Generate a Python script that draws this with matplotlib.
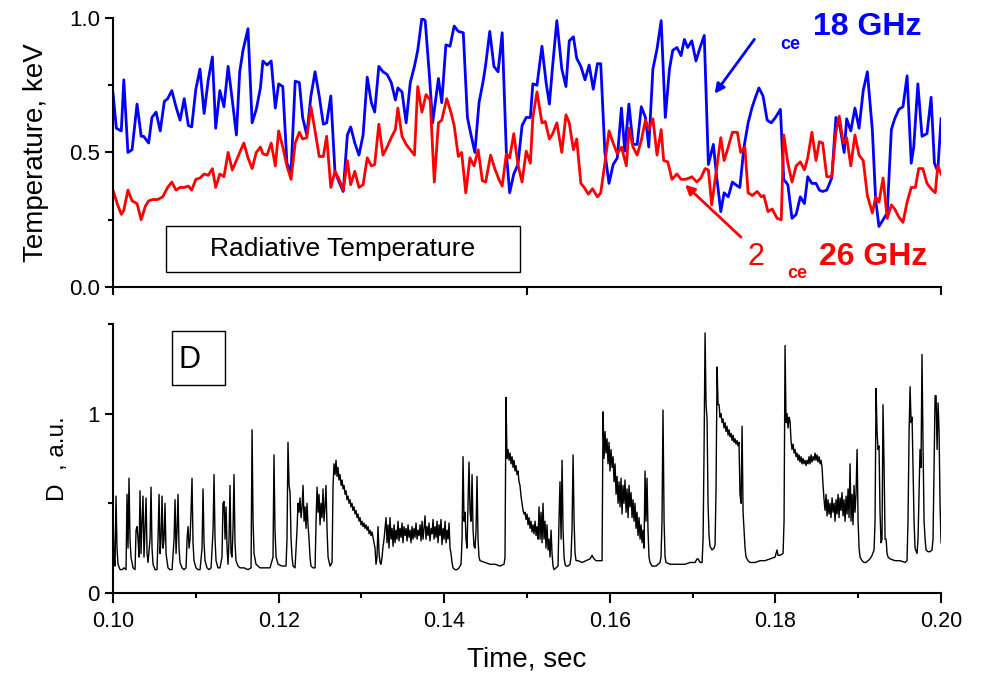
import matplotlib
matplotlib.use("Agg")
import matplotlib.pyplot as plt
import numpy as np
from matplotlib.patches import Rectangle
from matplotlib.ticker import MultipleLocator, FixedLocator, NullFormatter

# ECE radiative temperature, 18 GHz channel (blue)
blue_time = [
    0.1000, 0.1004, 0.1010, 0.1013, 0.1018, 0.1023, 0.1029, 0.1034, 0.1037, 0.1043,
    0.1047, 0.1052, 0.1057, 0.1062, 0.1066, 0.1071, 0.1076, 0.1081, 0.1086, 0.1091,
    0.1095, 0.1100, 0.1105, 0.1110, 0.1115, 0.1120, 0.1124, 0.1129, 0.1134, 0.1139,
    0.1144, 0.1149, 0.1153, 0.1157, 0.1163, 0.1168, 0.1173, 0.1178, 0.1181, 0.1186,
    0.1191, 0.1196, 0.1200, 0.1205, 0.1210, 0.1215, 0.1220, 0.1225, 0.1229, 0.1234,
    0.1239, 0.1244, 0.1249, 0.1254, 0.1258, 0.1263, 0.1268, 0.1273, 0.1278, 0.1283,
    0.1287, 0.1292, 0.1297, 0.1302, 0.1307, 0.1312, 0.1316, 0.1321, 0.1326, 0.1331,
    0.1336, 0.1341, 0.1344, 0.1349, 0.1354, 0.1359, 0.1364, 0.1368, 0.1373, 0.1377,
    0.1382, 0.1386, 0.1393, 0.1397, 0.1402, 0.1407, 0.1412, 0.1417, 0.1423, 0.1428,
    0.1432, 0.1437, 0.1442, 0.1447, 0.1450, 0.1455, 0.1460, 0.1465, 0.1470, 0.1475,
    0.1479, 0.1484, 0.1489, 0.1494, 0.1499, 0.1504, 0.1507, 0.1512, 0.1518, 0.1523,
    0.1527, 0.1531, 0.1536, 0.1542, 0.1547, 0.1551, 0.1556, 0.1560, 0.1565, 0.1570,
    0.1575, 0.1580, 0.1585, 0.1589, 0.1594, 0.1599, 0.1604, 0.1609, 0.1614, 0.1618,
    0.1623, 0.1628, 0.1633, 0.1638, 0.1643, 0.1647, 0.1652, 0.1657, 0.1662, 0.1667,
    0.1672, 0.1676, 0.1681, 0.1686, 0.1690, 0.1694, 0.1699, 0.1704, 0.1709, 0.1714,
    0.1719, 0.1725, 0.1729, 0.1734, 0.1738, 0.1743, 0.1748, 0.1752, 0.1757, 0.1762,
    0.1767, 0.1772, 0.1777, 0.1780, 0.1785, 0.1790, 0.1795, 0.1800, 0.1806, 0.1810,
    0.1815, 0.1820, 0.1825, 0.1830, 0.1835, 0.1839, 0.1844, 0.1849, 0.1853, 0.1857,
    0.1862, 0.1868, 0.1873, 0.1878, 0.1883, 0.1886, 0.1891, 0.1896, 0.1901, 0.1906,
    0.1911, 0.1917, 0.1921, 0.1925, 0.1930, 0.1935, 0.1940, 0.1944, 0.1949, 0.1954,
    0.1959, 0.1964, 0.1967, 0.1972, 0.1977, 0.1983, 0.1988, 0.1992, 0.1996, 0.2000,
]
blue_temp = [
    0.72, 0.59, 0.58, 0.77, 0.50, 0.51, 0.68, 0.56, 0.56, 0.535,
    0.63, 0.65, 0.58, 0.69, 0.70, 0.73, 0.67, 0.62, 0.70, 0.60,
    0.595, 0.735, 0.81, 0.645, 0.77, 0.855, 0.59, 0.73, 0.67, 0.82,
    0.695, 0.565, 0.80, 0.88, 0.96, 0.61, 0.66, 0.74, 0.84, 0.825,
    0.84, 0.665, 0.755, 0.745, 0.46, 0.43, 0.765, 0.76, 0.63, 0.565,
    0.71, 0.80, 0.71, 0.605, 0.61, 0.71, 0.43, 0.39, 0.355, 0.565,
    0.595, 0.535, 0.49, 0.565, 0.78, 0.685, 0.65, 0.82, 0.80, 0.79,
    0.76, 0.695, 0.74, 0.725, 0.61, 0.76, 0.82, 0.88, 1.00, 0.99,
    0.79, 0.61, 0.775, 0.685, 0.90, 0.895, 0.97, 0.95, 0.945, 0.63,
    0.57, 0.50, 0.685, 0.765, 0.825, 0.95, 0.82, 0.80, 0.945, 0.50,
    0.35, 0.42, 0.455, 0.60, 0.63, 0.63, 0.755, 0.75, 0.895, 0.76,
    0.68, 0.825, 0.99, 0.81, 0.745, 0.915, 0.93, 0.85, 0.82, 0.77,
    0.825, 0.735, 0.83, 0.83, 0.50, 0.385, 0.455, 0.48, 0.665, 0.505,
    0.68, 0.53, 0.53, 0.67, 0.63, 0.52, 0.81, 0.885, 0.99, 0.63,
    0.81, 0.88, 0.89, 0.86, 0.92, 0.89, 0.915, 0.84, 0.89, 0.935,
    0.455, 0.53, 0.41, 0.28, 0.35, 0.335, 0.39, 0.38, 0.37, 0.52,
    0.61, 0.67, 0.715, 0.74, 0.71, 0.62, 0.61, 0.63, 0.66, 0.40,
    0.38, 0.255, 0.27, 0.335, 0.31, 0.41, 0.385, 0.385, 0.36, 0.355,
    0.36, 0.405, 0.63, 0.595, 0.50, 0.625, 0.58, 0.665, 0.59, 0.73,
    0.80, 0.585, 0.325, 0.225, 0.25, 0.275, 0.585, 0.625, 0.66, 0.67,
    0.785, 0.46, 0.52, 0.755, 0.56, 0.57, 0.705, 0.46, 0.43, 0.625,
]

# ECE radiative temperature, 26 GHz channel (red)
red_time = [
    0.1000, 0.1005, 0.1010, 0.1013, 0.1018, 0.1023, 0.1029, 0.1034, 0.1039, 0.1043,
    0.1048, 0.1054, 0.1060, 0.1066, 0.1071, 0.1076, 0.1081, 0.1086, 0.1091, 0.1095,
    0.1100, 0.1105, 0.1110, 0.1115, 0.1120, 0.1124, 0.1129, 0.1134, 0.1139, 0.1144,
    0.1149, 0.1153, 0.1158, 0.1163, 0.1168, 0.1173, 0.1178, 0.1181, 0.1186, 0.1191,
    0.1196, 0.1200, 0.1205, 0.1210, 0.1215, 0.1220, 0.1225, 0.1229, 0.1234, 0.1239,
    0.1244, 0.1249, 0.1254, 0.1258, 0.1263, 0.1268, 0.1273, 0.1278, 0.1283, 0.1287,
    0.1292, 0.1297, 0.1302, 0.1307, 0.1312, 0.1316, 0.1321, 0.1326, 0.1331, 0.1336,
    0.1341, 0.1344, 0.1349, 0.1354, 0.1359, 0.1364, 0.1368, 0.1373, 0.1378, 0.1383,
    0.1388, 0.1393, 0.1397, 0.1403, 0.1408, 0.1412, 0.1417, 0.1421, 0.1426, 0.1431,
    0.1436, 0.1441, 0.1446, 0.1450, 0.1456, 0.1461, 0.1466, 0.1470, 0.1475, 0.1479,
    0.1484, 0.1489, 0.1494, 0.1499, 0.1504, 0.1507, 0.1512, 0.1518, 0.1522, 0.1527,
    0.1531, 0.1536, 0.1542, 0.1547, 0.1551, 0.1556, 0.1560, 0.1565, 0.1569, 0.1574,
    0.1579, 0.1585, 0.1589, 0.1594, 0.1599, 0.1604, 0.1609, 0.1614, 0.1620, 0.1623,
    0.1628, 0.1633, 0.1638, 0.1643, 0.1647, 0.1652, 0.1657, 0.1662, 0.1665, 0.1670,
    0.1675, 0.1681, 0.1686, 0.1691, 0.1696, 0.1699, 0.1705, 0.1710, 0.1715, 0.1719,
    0.1723, 0.1729, 0.1734, 0.1738, 0.1743, 0.1748, 0.1754, 0.1758, 0.1763, 0.1767,
    0.1772, 0.1778, 0.1783, 0.1786, 0.1791, 0.1796, 0.1802, 0.1807, 0.1810, 0.1815,
    0.1820, 0.1825, 0.1830, 0.1835, 0.1839, 0.1844, 0.1849, 0.1853, 0.1857, 0.1862,
    0.1868, 0.1873, 0.1877, 0.1882, 0.1886, 0.1891, 0.1896, 0.1901, 0.1906, 0.1911,
    0.1917, 0.1921, 0.1925, 0.1930, 0.1935, 0.1940, 0.1944, 0.1949, 0.1954, 0.1959,
    0.1964, 0.1969, 0.1973, 0.1978, 0.1983, 0.1988, 0.1993, 0.1996, 0.2000,
]
red_temp = [
    0.36, 0.31, 0.27, 0.285, 0.36, 0.32, 0.31, 0.25, 0.30, 0.32,
    0.325, 0.325, 0.335, 0.37, 0.39, 0.36, 0.37, 0.37, 0.375, 0.36,
    0.40, 0.405, 0.42, 0.415, 0.44, 0.37, 0.42, 0.41, 0.50, 0.435,
    0.47, 0.50, 0.535, 0.48, 0.44, 0.50, 0.52, 0.495, 0.49, 0.535,
    0.45, 0.58, 0.52, 0.45, 0.40, 0.535, 0.575, 0.55, 0.555, 0.67,
    0.58, 0.485, 0.485, 0.56, 0.37, 0.43, 0.40, 0.36, 0.47, 0.38,
    0.43, 0.37, 0.38, 0.48, 0.45, 0.455, 0.605, 0.49, 0.52, 0.555,
    0.585, 0.665, 0.56, 0.53, 0.51, 0.49, 0.745, 0.65, 0.715, 0.695,
    0.39, 0.61, 0.62, 0.70, 0.65, 0.60, 0.485, 0.50, 0.35, 0.48,
    0.45, 0.51, 0.395, 0.39, 0.49, 0.44, 0.40, 0.375, 0.495, 0.48,
    0.57, 0.455, 0.39, 0.505, 0.46, 0.63, 0.725, 0.61, 0.615, 0.55,
    0.57, 0.61, 0.50, 0.64, 0.61, 0.51, 0.55, 0.385, 0.37, 0.345,
    0.365, 0.335, 0.35, 0.46, 0.58, 0.535, 0.495, 0.52, 0.45, 0.59,
    0.52, 0.49, 0.545, 0.62, 0.585, 0.625, 0.49, 0.585, 0.47, 0.465,
    0.40, 0.42, 0.40, 0.40, 0.405, 0.41, 0.39, 0.405, 0.44, 0.435,
    0.305, 0.44, 0.555, 0.47, 0.52, 0.575, 0.575, 0.50, 0.52, 0.35,
    0.34, 0.355, 0.335, 0.34, 0.28, 0.29, 0.255, 0.25, 0.565, 0.46,
    0.39, 0.45, 0.465, 0.435, 0.48, 0.575, 0.47, 0.54, 0.535, 0.41,
    0.41, 0.575, 0.635, 0.535, 0.555, 0.45, 0.565, 0.49, 0.47, 0.34,
    0.275, 0.335, 0.315, 0.405, 0.255, 0.305, 0.29, 0.26, 0.24, 0.315,
    0.37, 0.37, 0.44, 0.44, 0.385, 0.365, 0.35, 0.45, 0.42,
]

# D-alpha signal, time in ms
d_time_ms = [
    100.00, 100.12, 100.24, 100.36, 100.48, 100.60, 100.85, 101.09, 101.33, 101.57,
    101.69, 101.81, 101.93, 102.05, 102.17, 102.42, 102.66, 102.78, 102.90, 103.02,
    103.14, 103.26, 103.38, 103.50, 103.62, 103.74, 103.86, 103.99, 104.11, 104.23,
    104.47, 104.59, 104.71, 104.83, 105.07, 105.31, 105.43, 105.56, 105.68, 105.80,
    105.92, 106.04, 106.16, 106.28, 106.40, 106.64, 106.88, 107.13, 107.37, 107.49,
    107.61, 107.73, 107.85, 107.97, 108.09, 108.33, 108.57, 108.82, 108.94, 109.06,
    109.18, 109.30, 109.42, 109.54, 109.66, 109.78, 110.02, 110.27, 110.51, 110.75,
    110.87, 110.99, 111.11, 111.35, 111.59, 111.84, 112.08, 112.20, 112.32, 112.44,
    112.68, 112.92, 113.16, 113.28, 113.41, 113.53, 113.65, 113.77, 113.89, 114.01,
    114.13, 114.25, 114.37, 114.49, 114.61, 114.73, 114.85, 115.10, 115.34, 115.82,
    116.30, 116.67, 116.79, 116.91, 117.03, 117.27, 117.75, 118.36, 118.96, 119.32,
    119.44, 119.56, 119.69, 119.93, 120.41, 120.89, 121.01, 121.13, 121.26, 121.38,
    121.50, 121.62, 121.74, 121.98, 122.22, 122.34, 122.46, 122.58, 122.71, 122.83,
    122.95, 123.07, 123.19, 123.31, 123.43, 123.55, 123.67, 123.79, 123.91, 124.15,
    124.40, 124.52, 124.64, 124.76, 124.88, 125.00, 125.12, 125.24, 125.36, 125.48,
    125.60, 125.72, 125.85, 125.97, 126.21, 126.45, 126.57, 126.69, 126.81, 126.93,
    127.05, 127.17, 127.29, 127.41, 127.54, 127.66, 127.78, 127.90, 128.02, 128.14,
    128.26, 128.38, 128.50, 128.62, 128.74, 128.86, 128.98, 129.11, 129.23, 129.35,
    129.47, 129.59, 129.71, 129.83, 129.95, 130.07, 130.19, 130.31, 130.43, 130.55,
    130.68, 130.80, 130.92, 131.04, 131.16, 131.28, 131.40, 131.64, 131.76, 131.88,
    132.00, 132.13, 132.25, 132.37, 132.49, 132.61, 132.73, 132.85, 132.97, 133.09,
    133.21, 133.33, 133.45, 133.58, 133.70, 133.82, 133.94, 134.06, 134.18, 134.30,
    134.42, 134.54, 134.66, 134.78, 134.90, 135.02, 135.14, 135.27, 135.39, 135.51,
    135.63, 135.75, 135.87, 135.99, 136.11, 136.23, 136.35, 136.47, 136.59, 136.72,
    136.84, 136.96, 137.08, 137.20, 137.32, 137.44, 137.56, 137.68, 137.80, 137.92,
    138.04, 138.16, 138.28, 138.41, 138.53, 138.65, 138.77, 138.89, 139.01, 139.13,
    139.25, 139.37, 139.49, 139.61, 139.73, 139.86, 139.98, 140.10, 140.22, 140.34,
    140.46, 140.58, 140.70, 140.82, 140.94, 141.06, 141.30, 141.55, 141.79, 142.03,
    142.15, 142.27, 142.39, 142.51, 142.63, 142.75, 142.87, 142.99, 143.12, 143.24,
    143.36, 143.48, 143.60, 143.72, 143.84, 143.96, 144.08, 144.20, 144.32, 144.93,
    145.53, 146.14, 146.74, 147.22, 147.34, 147.46, 147.58, 147.70, 147.83, 147.95,
    148.07, 148.19, 148.31, 148.43, 148.55, 148.67, 148.79, 148.91, 149.03, 149.15,
    149.27, 149.40, 149.52, 149.64, 149.76, 149.88, 150.00, 150.12, 150.24, 150.36,
    150.48, 150.60, 150.72, 150.84, 150.97, 151.09, 151.21, 151.33, 151.45, 151.57,
    151.69, 151.81, 151.93, 152.05, 152.17, 152.29, 152.41, 152.54, 152.66, 152.78,
    152.90, 153.02, 153.14, 153.26, 153.50, 153.74, 153.86, 153.98, 154.11, 154.23,
    154.35, 154.47, 154.59, 154.71, 154.95, 155.19, 155.31, 155.43, 155.56, 155.68,
    155.80, 155.92, 156.16, 156.64, 157.13, 157.61, 157.85, 158.09, 158.33, 158.70,
    159.06, 159.18, 159.30, 159.42, 159.54, 159.66, 159.78, 159.90, 160.02, 160.14,
    160.27, 160.39, 160.51, 160.63, 160.75, 160.87, 160.99, 161.11, 161.23, 161.35,
    161.47, 161.59, 161.71, 161.83, 161.96, 162.08, 162.20, 162.32, 162.44, 162.56,
    162.68, 162.80, 162.92, 163.04, 163.16, 163.28, 163.40, 163.53, 163.65, 163.77,
    163.89, 164.01, 164.13, 164.25, 164.37, 164.49, 164.61, 164.73, 164.85, 165.10,
    165.58, 166.06, 166.18, 166.30, 166.42, 166.55, 166.67, 166.79, 167.27, 167.87,
    168.48, 169.08, 169.69, 170.29, 170.53, 170.66, 170.90, 171.14, 171.26, 171.38,
    171.50, 171.62, 171.74, 171.86, 171.98, 172.10, 172.34, 172.58, 172.71, 172.83,
    172.95, 173.07, 173.19, 173.31, 173.43, 173.55, 173.67, 173.79, 173.91, 174.03,
    174.15, 174.28, 174.40, 174.52, 174.64, 174.76, 174.88, 175.00, 175.12, 175.24,
    175.36, 175.48, 175.60, 175.72, 175.85, 175.97, 176.09, 176.21, 176.33, 176.45,
    176.69, 176.93, 177.54, 178.14, 178.74, 179.35, 179.95, 180.07, 180.19, 180.31,
    180.56, 180.92, 181.04, 181.16, 181.28, 181.40, 181.52, 181.64, 181.76, 181.88,
    182.00, 182.13, 182.25, 182.37, 182.49, 182.61, 182.73, 182.85, 182.97, 183.09,
    183.21, 183.33, 183.45, 183.57, 183.70, 183.82, 183.94, 184.06, 184.18, 184.30,
    184.42, 184.54, 184.66, 184.78, 184.90, 185.02, 185.14, 185.27, 185.39, 185.51,
    185.63, 185.75, 185.87, 185.99, 186.11, 186.23, 186.35, 186.47, 186.59, 186.71,
    186.84, 186.96, 187.08, 187.20, 187.32, 187.44, 187.56, 187.68, 187.80, 187.92,
    188.04, 188.16, 188.28, 188.41, 188.53, 188.65, 188.77, 188.89, 189.01, 189.13,
    189.25, 189.37, 189.49, 189.61, 189.73, 189.86, 189.98, 190.10, 190.22, 190.46,
    190.70, 190.94, 191.18, 191.42, 191.67, 191.91, 192.03, 192.15, 192.27, 192.39,
    192.51, 192.63, 192.75, 192.87, 192.99, 193.12, 193.24, 193.36, 193.48, 193.60,
    193.84, 194.44, 195.05, 195.65, 195.89, 196.01, 196.14, 196.26, 196.38, 196.50,
    196.62, 196.74, 196.86, 197.10, 197.22, 197.34, 197.46, 197.58, 197.70, 197.83,
    197.95, 198.07, 198.19, 198.43, 198.67, 198.91, 199.03, 199.15, 199.28, 199.40,
    199.52, 199.64, 199.76, 199.88, 200.00,
]
d_signal = [
    0.45, 0.20, 0.15, 0.54, 0.25, 0.16, 0.13, 0.13, 0.14, 0.13,
    0.55, 0.25, 0.64, 0.30, 0.20, 0.14, 0.13, 0.35, 0.37, 0.30,
    0.20, 0.57, 0.22, 0.40, 0.54, 0.20, 0.35, 0.53, 0.22, 0.17,
    0.30, 0.59, 0.25, 0.16, 0.13, 0.13, 0.30, 0.55, 0.22, 0.30,
    0.54, 0.25, 0.30, 0.50, 0.22, 0.14, 0.13, 0.13, 0.30, 0.52,
    0.22, 0.35, 0.55, 0.25, 0.17, 0.14, 0.13, 0.14, 0.30, 0.37,
    0.25, 0.30, 0.45, 0.64, 0.28, 0.18, 0.14, 0.13, 0.13, 0.25,
    0.58, 0.28, 0.18, 0.14, 0.13, 0.14, 0.35, 0.66, 0.30, 0.18,
    0.14, 0.14, 0.20, 0.50, 0.51, 0.30, 0.48, 0.25, 0.16, 0.30,
    0.60, 0.22, 0.20, 0.35, 0.66, 0.28, 0.18, 0.15, 0.14, 0.14,
    0.13, 0.14, 0.91, 0.40, 0.22, 0.16, 0.14, 0.14, 0.14, 0.20,
    0.77, 0.35, 0.20, 0.16, 0.15, 0.15, 0.30, 0.84, 0.60, 0.56,
    0.30, 0.20, 0.15, 0.14, 0.35, 0.50, 0.45, 0.53, 0.42, 0.48,
    0.60, 0.40, 0.48, 0.36, 0.50, 0.38, 0.30, 0.20, 0.15, 0.14,
    0.14, 0.40, 0.59, 0.45, 0.55, 0.38, 0.50, 0.42, 0.58, 0.40,
    0.48, 0.60, 0.35, 0.20, 0.15, 0.17, 0.60, 0.72, 0.66, 0.74,
    0.65, 0.70, 0.63, 0.66, 0.60, 0.63, 0.58, 0.60, 0.55, 0.57,
    0.52, 0.54, 0.50, 0.52, 0.48, 0.50, 0.46, 0.48, 0.44, 0.46,
    0.42, 0.44, 0.40, 0.42, 0.38, 0.40, 0.37, 0.39, 0.36, 0.38,
    0.35, 0.37, 0.33, 0.35, 0.32, 0.34, 0.31, 0.25, 0.16, 0.20,
    0.37, 0.22, 0.17, 0.16, 0.20, 0.26, 0.30, 0.36, 0.42, 0.28,
    0.38, 0.25, 0.42, 0.30, 0.36, 0.26, 0.38, 0.28, 0.35, 0.30,
    0.40, 0.29, 0.36, 0.31, 0.39, 0.28, 0.37, 0.32, 0.36, 0.29,
    0.38, 0.31, 0.35, 0.28, 0.37, 0.30, 0.36, 0.31, 0.39, 0.30,
    0.35, 0.32, 0.38, 0.29, 0.40, 0.30, 0.36, 0.43, 0.30, 0.37,
    0.32, 0.39, 0.29, 0.36, 0.33, 0.41, 0.30, 0.37, 0.31, 0.40,
    0.28, 0.38, 0.32, 0.41, 0.27, 0.36, 0.30, 0.40, 0.28, 0.35,
    0.30, 0.39, 0.25, 0.22, 0.17, 0.14, 0.13, 0.13, 0.14, 0.16,
    0.30, 0.76, 0.40, 0.45, 0.30, 0.25, 0.50, 0.73, 0.45, 0.40,
    0.66, 0.35, 0.26, 0.25, 0.35, 0.65, 0.30, 0.20, 0.18, 0.17,
    0.16, 0.16, 0.15, 0.16, 0.20, 1.09, 0.75, 0.80, 0.74, 0.78,
    0.72, 0.76, 0.70, 0.74, 0.68, 0.71, 0.66, 0.68, 0.62, 0.60,
    0.54, 0.50, 0.46, 0.44, 0.45, 0.41, 0.44, 0.38, 0.42, 0.36,
    0.40, 0.34, 0.38, 0.33, 0.40, 0.32, 0.37, 0.30, 0.48, 0.30,
    0.45, 0.28, 0.50, 0.30, 0.40, 0.25, 0.38, 0.24, 0.30, 0.20,
    0.35, 0.22, 0.15, 0.13, 0.14, 0.15, 0.40, 0.62, 0.30, 0.74,
    0.35, 0.20, 0.16, 0.15, 0.15, 0.16, 0.20, 0.35, 0.77, 0.40,
    0.22, 0.18, 0.18, 0.17, 0.18, 0.19, 0.21, 0.19, 0.18, 0.18,
    0.18, 1.01, 0.75, 0.90, 0.78, 0.86, 0.72, 0.84, 0.68, 0.80,
    0.70, 0.76, 0.62, 0.72, 0.55, 0.65, 0.50, 0.62, 0.48, 0.64,
    0.44, 0.60, 0.50, 0.63, 0.45, 0.58, 0.42, 0.60, 0.48, 0.56,
    0.42, 0.52, 0.40, 0.50, 0.36, 0.45, 0.32, 0.42, 0.30, 0.38,
    0.28, 0.35, 0.25, 0.68, 0.40, 0.64, 0.35, 0.20, 0.17, 0.15,
    0.15, 0.17, 0.20, 0.40, 1.02, 0.40, 0.20, 0.17, 0.16, 0.16,
    0.16, 0.16, 0.17, 0.17, 0.19, 0.19, 0.17, 0.17, 0.30, 0.80,
    1.45, 1.05, 0.97, 0.50, 0.32, 0.26, 0.24, 0.25, 0.27, 0.60,
    1.26, 1.05, 1.05, 0.98, 1.00, 0.95, 0.97, 0.92, 0.95, 0.90,
    0.93, 0.88, 0.91, 0.87, 0.89, 0.85, 0.88, 0.84, 0.86, 0.83,
    0.85, 0.82, 0.84, 0.55, 0.50, 0.93, 0.45, 0.35, 0.25, 0.20,
    0.18, 0.17, 0.17, 0.18, 0.18, 0.19, 0.20, 0.22, 0.24, 0.21,
    0.21, 0.22, 0.40, 1.38, 0.95, 1.00, 0.92, 0.98, 0.96, 0.85,
    0.80, 0.83, 0.78, 0.80, 0.76, 0.78, 0.74, 0.77, 0.73, 0.76,
    0.72, 0.75, 0.72, 0.74, 0.71, 0.74, 0.72, 0.76, 0.72, 0.77,
    0.73, 0.76, 0.74, 0.78, 0.74, 0.77, 0.73, 0.76, 0.72, 0.74,
    0.70, 0.60, 0.52, 0.46, 0.55, 0.43, 0.52, 0.44, 0.50, 0.42,
    0.53, 0.45, 0.50, 0.40, 0.52, 0.44, 0.55, 0.42, 0.53, 0.46,
    0.56, 0.43, 0.52, 0.40, 0.54, 0.44, 0.58, 0.42, 0.72, 0.40,
    0.55, 0.38, 0.60, 0.45, 0.55, 0.80, 0.40, 0.25, 0.20, 0.18,
    0.17, 0.17, 0.18, 0.19, 0.21, 0.24, 0.40, 1.14, 0.90, 0.80,
    0.82, 0.45, 0.28, 0.30, 1.05, 0.70, 0.30, 0.30, 0.22, 0.20,
    0.19, 0.18, 0.18, 0.17, 0.18, 0.40, 0.90, 1.15, 0.95, 0.98,
    0.70, 0.40, 0.25, 0.22, 0.30, 0.55, 0.80, 0.70, 1.33, 0.80,
    0.40, 0.30, 0.24, 0.23, 0.23, 0.24, 0.30, 0.70, 1.10, 1.10,
    0.80, 1.06, 0.90, 0.50, 0.28,
]

temp_yticks = [0.0, 0.5, 1.0]
temp_yticklabels = ["0.0", "0.5", "1.0"]
time_ticks = [0.10, 0.12, 0.14, 0.16, 0.18, 0.20]
time_ticklabels = ["0.10", "0.12", "0.14", "0.16", "0.18", "0.20"]

plt.rcParams["font.family"] = ["Liberation Sans", "DejaVu Sans"]

fig = plt.figure(figsize=(9.82, 6.80), dpi=100)
ax1 = fig.add_axes([0.1151, 0.578, 0.8432, 0.3956])
ax2 = fig.add_axes([0.1151, 0.128, 0.8432, 0.3956])

for ax in (ax1, ax2):
    ax.spines["top"].set_visible(False)
    ax.spines["right"].set_visible(False)
    ax.spines["left"].set_linewidth(1.5)
    ax.spines["bottom"].set_linewidth(1.5)
    ax.set_xlim(0.10, 0.20)
    ax.tick_params(which="major", direction="out", length=6, width=1.5, labelsize=16)
    ax.tick_params(which="minor", direction="out", length=3.5, width=1.5)

# top panel: temperatures
ax1.plot(blue_time, blue_temp, color="#0000ff", lw=2.0)
ax1.plot(red_time, red_temp, color="#ff0000", lw=2.0)
ax1.set_ylim(0.0, 1.0)
ax1.yaxis.set_major_locator(FixedLocator(temp_yticks))
ax1.set_yticklabels(temp_yticklabels)
ax1.yaxis.set_minor_locator(MultipleLocator(0.25))
ax1.xaxis.set_major_locator(FixedLocator([0.10, 0.15, 0.20]))
ax1.xaxis.set_major_formatter(NullFormatter())
ax1.set_ylabel("Temperature, keV", fontsize=20)
ax1.yaxis.set_label_coords(-0.077, 0.5)

ax1.add_patch(Rectangle((0.1064, 0.056), 0.04275, 0.171, fill=False, lw=1.0,
                        edgecolor="black", clip_on=False))
ax1.text(0.12777, 0.1415, "Radiative Temperature", fontsize=19,
         ha="center", va="center")

ax1.annotate("", xy=(0.17246, 0.71), xytext=(0.17766, 0.929),
             arrowprops=dict(arrowstyle="-|>", color="#0000ff", lw=2,
                             mutation_scale=14), annotation_clip=False)
ax1.annotate("", xy=(0.16884, 0.387), xytext=(0.17609, 0.178),
             arrowprops=dict(arrowstyle="-|>", color="#ff0000", lw=2,
                             mutation_scale=14), annotation_clip=False)
ax1.text(0.18056, 0.885, "ce", color="#0000ff", fontsize=13, fontweight="bold",
         va="baseline", clip_on=False)
ax1.text(0.18454, 0.937, "18 GHz", color="#0000ff", fontsize=23, fontweight="bold",
         va="baseline", clip_on=False)
ax1.text(0.17657, 0.082, "2", color="#ff0000", fontsize=22,
         va="baseline", clip_on=False)
ax1.text(0.18140, 0.034, "ce", color="#ff0000", fontsize=13, fontweight="bold",
         va="baseline", clip_on=False)
ax1.text(0.18527, 0.082, "26 GHz", color="#ff0000", fontsize=23, fontweight="bold",
         va="baseline", clip_on=False)

# bottom panel: D-alpha
ax2.plot(np.array(d_time_ms) / 1000.0, d_signal, color="black", lw=1.0)
ax2.set_ylim(0.0, 1.5)
ax2.yaxis.set_major_locator(FixedLocator([0, 1]))
ax2.set_yticklabels(["0", "1"])
ax2.yaxis.set_minor_locator(MultipleLocator(0.5))
ax2.xaxis.set_major_locator(FixedLocator(time_ticks))
ax2.xaxis.set_minor_locator(MultipleLocator(0.01))
ax2.set_xticklabels(time_ticklabels, fontsize=15.5)
ax2.tick_params(axis="x", which="major", length=7, pad=6)
ax2.set_xlabel("Time, sec", fontsize=20)
ax2.xaxis.set_label_coords(0.5, -0.2)
ax2.set_ylabel("D  , a.u.", fontsize=17.5)
ax2.yaxis.set_label_coords(-0.053, 0.5)

ax2.add_patch(Rectangle((0.10713, 1.157), 0.0064, 0.304, fill=False, lw=1.0,
                        edgecolor="black", clip_on=False))
ax2.text(0.10785, 1.30, "D", fontsize=22, ha="left", va="center")

fig.savefig("out.png", dpi=100)
